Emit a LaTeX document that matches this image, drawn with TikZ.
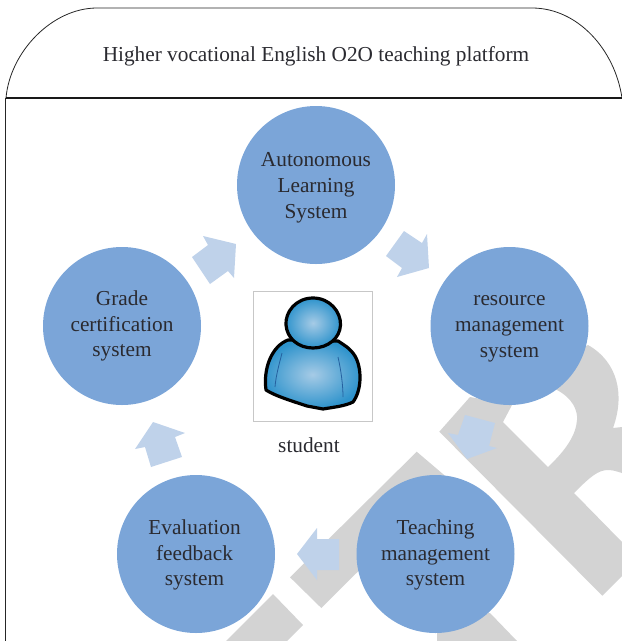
\documentclass[tikz,border=0pt]{standalone}
\usepackage{fontspec}
\setmainfont{Liberation Serif}
\definecolor{circ}{HTML}{7BA5D8}
\definecolor{arr}{HTML}{BFD2EA}
\definecolor{wm}{HTML}{D3D3D3}
\definecolor{txt}{HTML}{2A2A30}
\definecolor{iconout}{HTML}{2E93CC}
\definecolor{iconin}{HTML}{A6CBE6}
\definecolor{iconline}{HTML}{24609F}
\tikzset{
  sysnode/.style={circle,fill=circ,minimum size=158pt,inner sep=0pt},
  systext/.style={inner sep=0pt,align=center,font=\fontsize{21.3}{25.8}\selectfont,text=txt},
  lbl/.style={font=\fontsize{21.3}{25}\selectfont,text=txt},
  flow/.style={fill=arr,draw=none},
  wmark/.style={fill=wm,draw=none},
  iconpart/.style={inner color=iconin,outer color=iconout,draw=black,line width=3.2pt,line join=round},
  iconcrease/.style={line width=.8pt,draw=iconline}
}
\begin{document}
\begin{tikzpicture}[x=1pt,y=-1pt]
\useasboundingbox (0,0) rectangle (622,641);
% watermark
\begin{scope}
\clip (0,0) rectangle (622,641);
\fill[wmark] (439.3,431.7) -- (602.3,595.7) -- (642,556) -- (622,542) -- (574,493)
  .. controls (590,477) and (598,470) .. (608,470) .. controls (614,470) and (618,472) .. (622,473)
  -- (640,473) -- (640,427) -- (622,427) -- (613,428)
  .. controls (625,395) and (618,362) .. (588,345)
  -- (540,370) -- (557,390)
  .. controls (572,398) and (578,410) .. (577,420) .. controls (576,435) and (566,450) .. (548,467)
  -- (503,422) -- (512,405) -- (470,397) -- cycle;
\fill[wmark] (416.7,451.7) -- (290,577.3) -- (321.3,608) -- (450,480) -- cycle;
\fill[wmark] (273,594) -- (303,625) -- (287,641) -- (226,641) -- cycle;
\fill[wmark] (490,613) -- (517,641) -- (437,641) -- (437,620) -- cycle;
\end{scope}
% frame
\draw[line width=.8pt,black!85] (6,98) .. controls (10,52) and (52,8) .. (97,8) -- (532,8) .. controls (578,8) and (615,50) .. (622,98);
\draw[line width=1.2pt,black!90] (6,98) -- (622,98);
\draw[line width=.8pt,black!85] (5.5,98) -- (5.5,641);
\node[lbl] (title) at (316,56.5) {Higher vocational English O2O teaching platform};
% nodes
\node[sysnode,label={[systext,yshift=-2.5pt]center:{Autonomous\\Learning\\System}}] (auto) at (316,185) {};
\node[sysnode,label={[systext,yshift=-3pt]center:{resource\\management\\system}}] (res) at (509.5,326) {};
\node[sysnode,label={[systext,yshift=-1pt]center:{Teaching\\management\\system}}] (teach) at (435.5,554) {};
\node[sysnode,label={[systext,yshift=-1pt,xshift=-1.5pt]center:{Evaluation\\feedback\\system}}] (eval) at (196,554) {};
\node[sysnode,label={[systext]center:{Grade\\certification\\system}}] (grade) at (122,326) {};
% flow arrows
\fill[flow] (192,257) -- (208,245) -- (203,236) -- (236,244) -- (234,278) -- (228,271) -- (210,284) -- cycle;
\fill[flow] (386,256) -- (404,231) -- (422,243) -- (427,234) -- (429,268) -- (397,277) -- (402,268) -- cycle;
\fill[flow] (465,415) -- (495,423) -- (489,446) -- (497,448) -- (467,459) -- (448,433) -- (458,435) -- cycle;
\fill[flow] (339,539) -- (339,570) -- (317,570) -- (317,580) -- (297,554) -- (317,528) -- (317,539) -- cycle;
\fill[flow] (182,457) -- (151,467) -- (145,447) -- (135,449) -- (153,422) -- (185,433) -- (175,437) -- cycle;
% student icon
\draw[black!22,fill=white,line width=.9pt] (253.5,291.5) rectangle (372,421);
\shade[iconpart]
 (288,340) .. controls (272,346) and (263,368) .. (266,390) .. controls (275,396) and (295,402) .. (307,406)
 -- (323,409) .. controls (335,407) and (345,406) .. (353,402) .. controls (362,390) and (362,368) .. (355,356)
 .. controls (350,348) and (344,345) .. (338,341) -- cycle;
\shade[iconpart]
 (313,298) .. controls (330,298) and (341,312) .. (340.5,325) .. controls (340,338) and (328,348) .. (313,348)
 .. controls (298,348) and (287,338) .. (286,325) .. controls (285,312) and (296,298) .. (313,298) -- cycle;
\draw[iconcrease] (282,353) .. controls (279,365) and (276,375) .. (275,387);
\draw[iconcrease] (338,357) .. controls (341,370) and (343,385) .. (343,397);
\node[lbl] (stu) at (309,445.5) {student};
\end{tikzpicture}
\end{document}
